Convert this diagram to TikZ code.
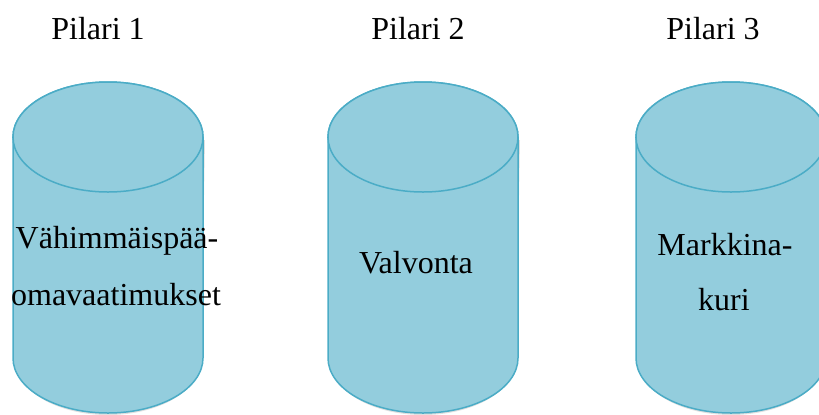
\documentclass[tikz,border=0pt]{standalone}
\usepackage{fontspec}
\setmainfont{Liberation Serif}
\definecolor{cylfill}{HTML}{93CDDD}
\definecolor{cylline}{HTML}{4BACC6}
\tikzset{
  cyl/.style={fill=cylfill, draw=cylline, line width=1.5bp},
  cylshadow/.style={fill=black, opacity=0.12},
  lbl/.style={font=\fontsize{32bp}{38bp}\selectfont, inner sep=0pt, anchor=base},
}
\newcommand{\mycyl}[1]{%
  \fill[cylshadow] (#1-93,140) -- (#1-93,360) arc[start angle=180, end angle=360, x radius=93bp, y radius=55bp] -- (#1+97,140) -- cycle;
  \draw[cyl] (#1-95,137) -- (#1-95,358) arc[start angle=180, end angle=360, x radius=95bp, y radius=55bp] -- (#1+95,137) arc[start angle=0, end angle=180, x radius=95bp, y radius=55bp] -- cycle;
  \draw[cyl] (#1,137) ellipse[x radius=95bp, y radius=55bp];
}
\begin{document}
\begin{tikzpicture}[x=1bp,y=-1bp]
\useasboundingbox (0,0) rectangle (819,414);
\clip (0,0) rectangle (819,414);
\mycyl{108}
\mycyl{423}
\mycyl{731}
\node[lbl] (p1) at (98,39) {Pilari 1};
\node[lbl] (p2) at (418,39) {Pilari 2};
\node[lbl] (p3) at (713,39) {Pilari 3};
\node[lbl] (t1a) at (117,248) {Vähimmäispää-};
\node[lbl] (t1b) at (116,305) {omavaatimukset};
\node[lbl] (t2) at (416,273) {Valvonta};
\node[lbl] (t3a) at (725,255) {Markkina-};
\node[lbl] (t3b) at (724,310) {kuri};
\end{tikzpicture}
\end{document}
